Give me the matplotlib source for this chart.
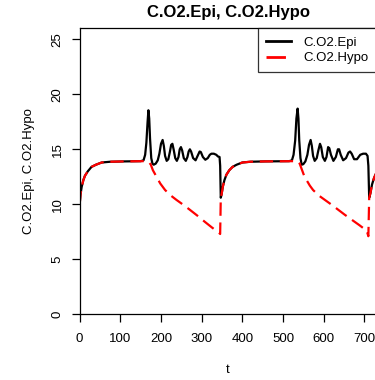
import matplotlib
matplotlib.use("Agg")
import matplotlib.pyplot as plt

plt.rcParams["font.family"] = ["Liberation Sans", "DejaVu Sans"]

# values
t_epi = [0, 2, 5, 9, 13, 20, 29, 40, 54, 75, 110, 150, 157, 161, 164, 167, 169, 171, 173, 176,
         179, 182, 187, 192, 196, 200, 204, 207, 210, 214, 218, 222, 225, 228, 231, 235, 239, 243,
         246, 249, 252, 256, 261, 265, 268, 271, 274, 279, 285, 290, 295, 298, 303, 309, 315, 320,
         324, 330, 336, 340, 344, 345.5, 347, 349, 352, 356, 361, 368, 376, 386, 400, 420, 455, 515,
         522, 526, 530, 533, 536, 538, 540, 543, 546, 550, 555, 560, 564, 568, 571, 574, 578, 583,
         587, 591, 594, 598, 603, 607, 611, 614, 618, 624, 630, 635, 638, 642, 648, 655, 661, 665,
         669, 675, 682, 690, 697, 704, 708, 710, 712, 715, 719, 724, 730]
c_epi = [10.0, 10.9, 11.6, 12.2, 12.6, 13.0, 13.4, 13.6, 13.8, 13.87, 13.9, 13.92, 14.0, 14.5,
         15.6, 17.5, 18.55, 17.8, 16.0, 14.2, 13.7, 13.6, 13.7, 14.0, 14.6, 15.5, 15.85, 15.3, 14.4,
         13.95, 14.1, 14.8, 15.4, 15.5, 15.0, 14.2, 13.95, 14.3, 15.0, 15.2, 14.9, 14.2, 13.95, 14.3,
         14.8, 15.0, 14.8, 14.2, 14.0, 14.4, 14.8, 14.75, 14.3, 14.05, 14.2, 14.5, 14.6, 14.6, 14.5,
         14.35, 14.3, 13.5, 10.6, 10.9, 11.6, 12.2, 12.7, 13.1, 13.4, 13.6, 13.8, 13.87, 13.9, 13.92,
         14.0, 14.5, 15.8, 17.8, 18.7, 17.8, 15.8, 14.2, 13.6, 13.65, 13.9, 14.5, 15.4, 15.85, 15.3,
         14.4, 13.95, 14.2, 14.9, 15.5, 15.2, 14.3, 13.95, 14.3, 15.2, 15.1, 14.5, 13.95, 14.3, 15.0,
         15.0, 14.5, 14.0, 14.2, 14.7, 14.8, 14.6, 14.1, 14.1, 14.5, 14.6, 14.6, 14.4, 13.5, 10.6,
         11.0, 11.8, 12.4, 12.9]

t_hypo = [0, 2, 5, 9, 13, 20, 29, 40, 54, 75, 110, 150, 165, 170, 175, 180, 189, 198, 210, 224,
          238, 255, 271, 290, 308, 325, 343, 345.5, 347, 349, 352, 356, 361, 368, 376, 386, 400,
          420, 455, 515, 530, 537, 541, 546, 552, 558, 566, 574, 588, 603, 620, 636, 652, 669, 688,
          706, 710, 712, 715, 719, 724, 730]
c_hypo = [10.0, 10.9, 11.6, 12.2, 12.6, 13.0, 13.4, 13.6, 13.8, 13.87, 13.9, 13.92, 13.92, 13.85,
          13.6, 13.1, 12.5, 11.9, 11.3, 10.8, 10.4, 9.95, 9.5, 8.95, 8.4, 7.9, 7.4, 7.3, 10.6, 10.9,
          11.6, 12.2, 12.7, 13.1, 13.4, 13.6, 13.8, 13.87, 13.9, 13.92, 13.92, 13.9, 13.7, 13.2,
          12.6, 12.2, 11.7, 11.3, 10.8, 10.4, 9.95, 9.5, 9.05, 8.6, 8.1, 7.6, 7.1, 10.6, 11.0, 11.8,
          12.4, 12.9]

series = ["C.O2.Epi", "C.O2.Hypo"]
x_ticks = [0, 100, 200, 300, 400, 500, 600, 700]
y_ticks = [0, 5, 10, 15, 20, 25]

fig = plt.figure(figsize=(3.75, 3.8), dpi=100)
# right edge of the box sits just past the image, as in the cropped original
ax = fig.add_axes([0.2125, 0.1729, 0.7915, 0.7526])

ax.plot(t_epi, c_epi, color="black", lw=1.6, label=series[0])
ax.plot(t_hypo, c_hypo, color="#ff0000", lw=1.6, dashes=(6, 3), label=series[1])

ax.set_xlim(0, 730)
ax.set_ylim(0, 26)
ax.set_xticks(x_ticks)
ax.set_yticks(y_ticks)
ax.tick_params(axis="both", length=5.8, width=0.9, labelsize=9.5, direction="out")
ax.tick_params(axis="x", pad=8)
ax.tick_params(axis="y", pad=5.7)
for lab in ax.get_yticklabels():
    lab.set_rotation(90)
    lab.set_va("center")
for s in ax.spines.values():
    s.set_linewidth(0.9)

ax.set_title(", ".join(series), fontsize=12, fontweight="bold", pad=8)
ax.set_xlabel("t", fontsize=9.5, labelpad=13)
ax.set_ylabel(", ".join(series), fontsize=9.5, labelpad=12)

leg = ax.legend(loc="upper right", fontsize=9.5, frameon=True, fancybox=False,
                borderaxespad=0, handlelength=1.9, handletextpad=0.9,
                borderpad=0.62, labelspacing=0.25)
leg.get_frame().set_edgecolor("black")
leg.get_frame().set_linewidth(0.9)
hl = leg.get_lines()
hl[0].set_linewidth(2)
hl[1].set_linewidth(2)
hl[1].set_dashes((7, 3))

fig.savefig("out.png", dpi=100)
